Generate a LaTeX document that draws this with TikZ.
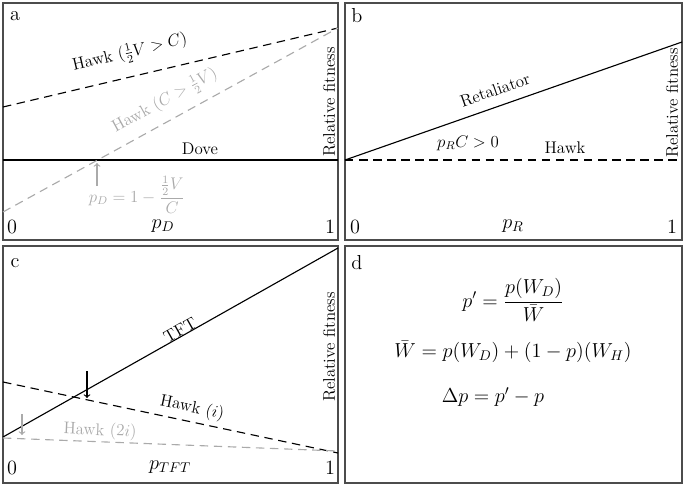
\documentclass[tikz,border=0pt]{standalone}
\usepackage{amsmath}
\usepackage{tikz}
\usetikzlibrary{positioning, arrows}
\definecolor{lightgrey}{RGB}{170,170,170}
\begin{document}
\begin{tikzpicture}[x=0.025cm, y=-0.025cm,
    panel/.style={draw=black!70, thick},
    dashline/.style={dashed, dash pattern=on 6pt off 4pt, thick},
    lab/.style={font=\Large},
    txt/.style={font=\large},
    axis/.style={rotate=90, font=\large}]
    \useasboundingbox (0,0) rectangle (685,486);
    % panel a
    \draw[panel] (3,3) rectangle (338,240);
    \node[lab] at (15,16) {a};
    \coordinate (A0) at (3,160);
    \coordinate (A1) at (338,160);
    \coordinate (AH) at (3,107);
    \coordinate (AG) at (3,212);
    \coordinate (AT) at (338,28);
    \draw[thick] (A0) -- (A1);
    \draw[dashline] (AH) -- (AT);
    \draw[dashline, lightgrey] (AG) -- (AT);
    \node[txt, rotate=13.3] at (130,53) {Hawk ($\tfrac{1}{2}V > C$)};
    \node[txt, rotate=28.8, lightgrey] at (165,101) {Hawk ($C > \tfrac{1}{2}V$)};
    \node[txt] at (200,149) {Dove};
    \coordinate (AA) at (97,186);
    \coordinate (AB) at (97,163);
    \draw[lightgrey, thick, -to] (AA) -- (AB);
    \node[txt, lightgrey] at (137,195) {$p_D = 1 - \dfrac{\frac{1}{2}V}{C}$};
    \node[axis] at (329,102) {Relative fitness};
    \node[lab] at (12,227) {0};
    \node[lab] at (163,226) {$p_D$};
    \node[lab] at (330,227) {1};
    % panel b
    \draw[panel] (345,3) rectangle (682,240);
    \node[lab] at (357,16) {b};
    \coordinate (B0) at (345,160);
    \coordinate (B1) at (682,160);
    \coordinate (BR) at (682,42);
    \draw[dashline] (B0) -- (B1);
    \draw[thick] (B0) -- (BR);
    \node[txt, rotate=19.3] at (495,90) {Retaliator};
    \node[txt] at (468,143) {$p_R C > 0$};
    \node[txt] at (565,148) {Hawk};
    \node[axis] at (672,103) {Relative fitness};
    \node[lab] at (355,227) {0};
    \node[lab] at (513,226) {$p_R$};
    \node[lab] at (672,227) {1};
    % panel c
    \draw[panel] (3,246) rectangle (338,483);
    \node[lab] at (15,263) {c};
    \coordinate (C0) at (3,437);
    \coordinate (CT) at (338,248);
    \coordinate (CH0) at (3,382);
    \coordinate (CH1) at (338,453);
    \coordinate (CG0) at (3,438);
    \coordinate (CG1) at (338,451);
    \draw[thick] (C0) -- (CT);
    \draw[dashline] (CH0) -- (CH1);
    \draw[dashline, lightgrey] (CG0) -- (CG1);
    \node[txt, rotate=29.4] at (180,330) {TFT};
    \node[txt, rotate=-12] at (192,408) {Hawk ($i$)};
    \node[txt, rotate=-2.5, lightgrey] at (100,431) {Hawk ($2i$)};
    \coordinate (CA) at (87,371);
    \coordinate (CB) at (87,398);
    \draw[thick, -to] (CA) -- (CB);
    \coordinate (CC) at (22,414);
    \coordinate (CD) at (22,435);
    \draw[lightgrey, thick, -to] (CC) -- (CD);
    \node[axis] at (329,347) {Relative fitness};
    \node[lab] at (12,468) {0};
    \node[lab] at (170,467) {$p_{TFT}$};
    \node[lab] at (330,468) {1};
    % panel d
    \draw[panel] (345,246) rectangle (682,483);
    \node[lab] at (357,263) {d};
    \node[font=\Large] at (513,300) {$p' = \dfrac{p(W_D)}{\bar{W}}$};
    \node[font=\Large] at (513,352) {$\bar{W} = p(W_D) + (1-p)(W_H)$};
    \node[font=\Large] at (493,397) {$\Delta p = p' - p$};
\end{tikzpicture}
\end{document}
